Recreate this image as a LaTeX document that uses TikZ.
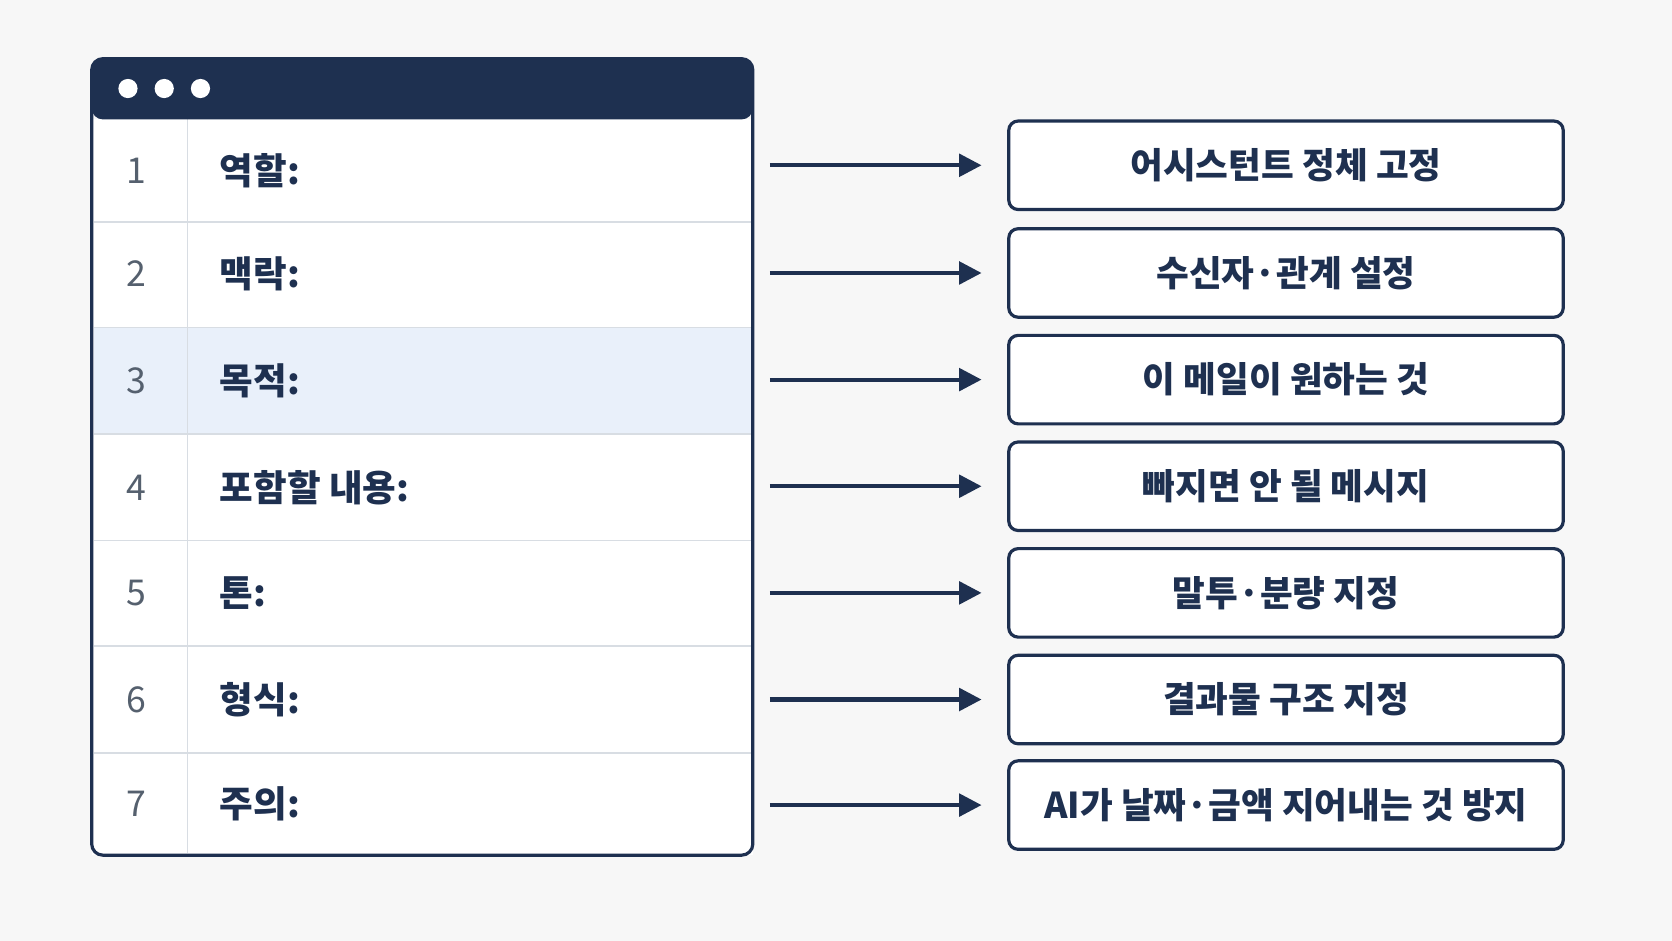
\documentclass[tikz,border=0pt]{standalone}
\usepackage{fontspec}
\setmainfont{Noto Sans CJK KR}
\usetikzlibrary{arrows.meta}
\definecolor{navy}{HTML}{1E3050}
\definecolor{pagebg}{HTML}{F7F7F7}
\definecolor{rowhl}{HTML}{E9F0FA}
\definecolor{rowline}{HTML}{D8DDE3}
\definecolor{numgray}{HTML}{55606E}
\tikzset{
  num/.style={font=\fontsize{19}{22}\selectfont, text=numgray},
  key/.style={anchor=west, font=\fontsize{19.5}{22}\selectfont\bfseries, text=navy},
  box/.style={draw=navy, line width=1.7pt, rounded corners=5pt, fill=white,
    minimum width=520*0.02cm, minimum height=83*0.02cm,
    font=\fontsize{19}{22}\selectfont\bfseries, text=navy},
  link/.style={navy, line width=2.2pt, -{Triangle[length=12pt,width=12pt]},
    shorten <=16*0.02cm, shorten >=24*0.02cm}
}
\begin{document}
\begin{tikzpicture}[x=0.02cm,y=-0.02cm]
\fill[pagebg] (0,0) rectangle (1568,882);
\useasboundingbox (0,0) rectangle (1568,882);
% window
\fill[white] (86,112) rectangle (706,802);
\fill[rowhl] (88,307) rectangle (704,407);
\foreach \y in {208,307,407,507,606,706}
  \draw[rowline, line width=0.8pt] (88,\y) -- (704,\y);
\draw[rowline, line width=0.8pt] (176,112) -- (176,800);
\fill[navy, rounded corners=6pt] (86,112) -- (86,55) -- (706,55) -- (706,112) -- cycle;
\foreach \x in {120,154,188}
  \fill[white] (\x,83) circle (9);
\draw[navy, line width=1.7pt, rounded corners=6pt] (86,55) rectangle (706,802);
% rows and boxes
\foreach \i/\yc/\yb/\key/\txt in {
  1/160/155/역할:/어시스턴트 정체 고정,
  2/257/256/맥락:/수신자·관계 설정,
  3/357/356/목적:/이 메일이 원하는 것,
  4/457/456/포함할 내용:/빠지면 안 될 메시지,
  5/556/556/톤:/말투·분량 지정,
  6/656/656/형식:/결과물 구조 지정,
  7/754/755/주의:/AI가 날짜·금액 지어내는 것 방지}{
  \node[num] (n\i) at (128,\yc) {\i};
  \node[key] (k\i) at (200,\yc) {\key};
  \coordinate (r\i) at (706,\yb);
  \node[box] (b\i) at (1206,\yb) {\txt};
  \draw[link] (r\i) -- (b\i.west);
}
\end{tikzpicture}
\end{document}
